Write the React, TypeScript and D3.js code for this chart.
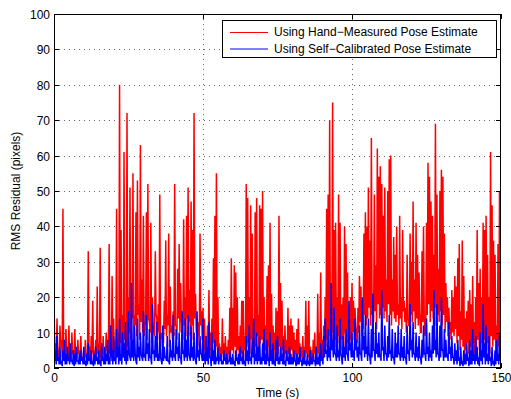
import React from "react";
import * as d3 from "d3";

// ---- data ----
// Peaks are sampled every 0.5 s; the "low" arrays hold the dips seen between them.
const sampleStep = 0.5;
const xTicks = [0, 50, 100, 150];
const yTicks = [0, 10, 20, 30, 40, 50, 60, 70, 80, 90, 100];
const seriesNames = ["Using Hand\u2212Measured Pose Estimate", "Using Self\u2212Calibrated Pose Estimate"];

const handMeasured = [
  22, 7, 14, 5, 12, 8, 45, 5, 11, 4,
  12, 6, 10, 4, 11, 3, 8, 5, 9, 3,
  5, 8, 4, 33, 6, 9, 19, 5, 8, 23,
  7, 34, 6, 9, 5, 10, 7, 35, 12, 26,
  14, 8, 45, 10, 80, 39, 15, 61, 12, 72,
  20, 51, 22, 55, 15, 44, 53, 18, 63, 25,
  43, 12, 44, 52, 13, 41, 20, 10, 33, 14,
  18, 49, 10, 8, 19, 36, 15, 38, 23, 12,
  16, 52, 12, 28, 35, 24, 14, 42, 20, 43,
  51, 22, 47, 39, 72, 21, 14, 13, 38, 16,
  17, 14, 9, 12, 22, 10, 14, 31, 43, 55,
  20, 7, 6, 14, 7, 9, 6, 8, 17, 31,
  17, 29, 27, 20, 9, 12, 19, 19, 9, 52,
  48, 20, 46, 38, 9, 44, 48, 15, 46, 45,
  50, 20, 12, 26, 29, 41, 21, 12, 10, 17,
  16, 43, 24, 19, 9, 12, 8, 17, 12, 14,
  12, 10, 8, 11, 14, 7, 6, 9, 6, 19,
  12, 19, 6, 5, 8, 10, 6, 21, 10, 27,
  8, 12, 20, 45, 49, 70, 20, 75, 39, 41,
  20, 49, 41, 18, 20, 40, 35, 27, 15, 20,
  24, 19, 17, 9, 17, 26, 23, 19, 38, 44,
  40, 51, 36, 65, 17, 49, 29, 62, 54, 57,
  52, 43, 51, 25, 50, 59, 60, 25, 37, 32,
  40, 18, 43, 20, 39, 19, 17, 32, 12, 38,
  30, 47, 25, 41, 32, 27, 10, 33, 40, 9,
  41, 58, 54, 47, 43, 32, 69, 49, 28, 50,
  56, 54, 38, 24, 20, 17, 13, 22, 20, 26,
  23, 31, 35, 16, 36, 26, 14, 16, 19, 22,
  18, 26, 13, 20, 39, 24, 28, 20, 41, 39,
  43, 32, 20, 61, 46, 36, 32, 12, 35, 50,
];

const handMeasuredLow = [
  4, 3, 5, 2, 6, 3, 4, 2, 5, 3,
  3, 2, 4, 3, 2, 3, 4, 2, 3, 2,
  2, 3, 4, 2, 3, 4, 2, 3, 2, 4,
  3, 2, 4, 3, 2, 5, 3, 4, 2, 5,
  4, 3, 6, 2, 7, 4, 3, 8, 5, 6,
  10, 8, 14, 7, 12, 9, 15, 8, 13, 10,
  9, 13, 8, 14, 10, 7, 12, 9, 15, 8,
  10, 6, 9, 7, 11, 9, 12, 6, 10, 8,
  9, 12, 8, 14, 10, 13, 8, 12, 9, 14,
  13, 9, 12, 8, 14, 10, 6, 9, 12, 8,
  5, 3, 4, 6, 3, 5, 4, 7, 5, 6,
  3, 2, 3, 4, 2, 3, 2, 4, 3, 5,
  4, 6, 3, 5, 2, 4, 3, 5, 3, 6,
  7, 4, 8, 5, 3, 6, 9, 4, 7, 8,
  6, 4, 5, 3, 6, 4, 3, 5, 2, 4,
  4, 6, 3, 5, 3, 4, 2, 4, 3, 5,
  3, 4, 2, 3, 4, 2, 3, 2, 3, 4,
  3, 2, 3, 2, 4, 2, 3, 4, 2, 3,
  3, 4, 6, 8, 5, 9, 7, 10, 6, 8,
  7, 9, 5, 8, 6, 10, 7, 5, 8, 6,
  10, 8, 12, 7, 10, 13, 9, 11, 15, 12,
  14, 17, 12, 15, 13, 16, 11, 18, 14, 15,
  17, 14, 16, 13, 18, 15, 12, 16, 14, 13,
  15, 12, 14, 11, 16, 13, 10, 14, 12, 15,
  13, 16, 11, 14, 12, 15, 10, 13, 14, 11,
  15, 18, 13, 16, 14, 17, 12, 15, 13, 16,
  12, 15, 10, 13, 9, 11, 8, 10, 9, 11,
  7, 9, 5, 8, 6, 4, 5, 7, 4, 6,
  5, 7, 4, 6, 8, 5, 7, 4, 8, 6,
  7, 5, 4, 9, 6, 8, 5, 3, 6, 8,
];

const selfCalibrated = [
  13, 5, 9, 3, 6, 2, 5, 8, 4, 6,
  3, 7, 2, 5, 4, 6, 2, 4, 5, 3,
  6, 2, 4, 7, 3, 5, 2, 4, 6, 3,
  5, 2, 7, 3, 6, 4, 8, 3, 12, 5,
  9, 3, 11, 6, 14, 4, 10, 7, 13, 5,
  16, 3, 24, 8, 12, 2, 14, 6, 10, 3,
  16, 4, 15, 7, 11, 3, 18, 5, 9, 13,
  4, 10, 2, 12, 6, 3, 9, 2, 8, 5,
  15, 4, 11, 6, 10, 3, 16, 5, 14, 8,
  15, 3, 12, 6, 10, 2, 16, 5, 9, 4,
  14, 4, 9, 6, 13, 3, 10, 5, 8, 3,
  6, 3, 4, 2, 5, 3, 4, 2, 5, 3,
  4, 2, 5, 3, 4, 6, 3, 5, 2, 9,
  5, 12, 3, 8, 14, 4, 10, 6, 9, 3,
  7, 11, 4, 8, 3, 10, 5, 7, 2, 8,
  9, 3, 6, 4, 8, 2, 5, 3, 6, 4,
  3, 5, 2, 4, 3, 6, 2, 3, 5, 2,
  4, 2, 5, 3, 4, 2, 6, 3, 4, 7,
  3, 9, 14, 5, 11, 6, 24, 8, 17, 4,
  12, 5, 14, 3, 9, 6, 11, 4, 19, 7,
  10, 5, 14, 8, 6, 12, 4, 20, 9, 15,
  6, 14, 3, 11, 21, 5, 13, 7, 10, 4,
  22, 6, 12, 4, 9, 15, 5, 11, 3, 10,
  7, 12, 4, 11, 6, 9, 3, 12, 5, 18,
  8, 13, 4, 10, 6, 9, 3, 8, 12, 4,
  14, 6, 10, 5, 12, 22, 8, 18, 4, 12,
  20, 5, 11, 8, 4, 13, 6, 9, 3, 7,
  5, 8, 3, 6, 2, 5, 4, 7, 3, 8,
  5, 11, 4, 9, 6, 3, 10, 5, 18, 7,
  12, 4, 9, 3, 6, 2, 5, 8, 4, 10,
];

const selfCalibratedLow = [
  2, 1, 2, 1, 1, 0.5, 2, 1, 1, 2,
  1, 2, 1, 0.5, 1, 2, 1, 1, 2, 1,
  1, 0.5, 1, 2, 1, 1, 0.5, 1, 2, 1,
  1, 0.5, 2, 1, 1, 2, 1, 1, 3, 1,
  2, 1, 3, 1, 2, 1, 3, 2, 1, 2,
  4, 2, 3, 2, 4, 1, 3, 2, 4, 2,
  3, 2, 4, 2, 3, 1, 4, 2, 3, 2,
  2, 3, 1, 2, 3, 2, 2, 1, 3, 2,
  3, 2, 4, 2, 3, 1, 4, 2, 3, 2,
  4, 2, 3, 2, 3, 1, 3, 2, 4, 2,
  2, 1, 2, 1, 3, 0.5, 2, 1, 1, 2,
  1, 2, 1, 1, 2, 1, 1, 2, 1, 1,
  1, 0.5, 2, 1, 1, 2, 1, 1, 0.5, 2,
  1, 2, 1, 3, 1, 2, 1, 2, 1, 1,
  2, 1, 1, 2, 0.5, 2, 1, 1, 0.5, 2,
  1, 1, 2, 1, 1, 0.5, 2, 1, 1, 1,
  1, 2, 0.5, 1, 1, 2, 0.5, 1, 1, 0.5,
  1, 0.5, 1, 1, 2, 0.5, 1, 1, 0.5, 2,
  1, 3, 4, 2, 3, 2, 5, 3, 4, 2,
  3, 2, 4, 1, 3, 2, 4, 2, 5, 3,
  3, 2, 5, 3, 2, 4, 2, 5, 3, 4,
  2, 4, 1, 3, 5, 2, 4, 3, 3, 2,
  5, 2, 4, 2, 3, 4, 2, 3, 1, 3,
  3, 4, 2, 3, 2, 3, 1, 4, 2, 5,
  3, 4, 2, 3, 2, 3, 1, 3, 4, 2,
  4, 2, 3, 2, 4, 5, 3, 4, 2, 3,
  5, 2, 3, 3, 2, 4, 2, 3, 1, 2,
  1, 2, 0.5, 1, 0.5, 1, 1, 2, 0.5, 1,
  1, 2, 1, 2, 1, 0.5, 2, 1, 3, 1,
  2, 1, 2, 0.5, 1, 0.5, 1, 2, 1, 2,
];

const seriesColors = ["#ff0000", "#0000ff"];

type Pt = { t: number; v: number };
function weave(peaks: number[], lows: number[]): Pt[] {
  const out: Pt[] = [];
  peaks.forEach((p, i) => {
    out.push({ t: i * sampleStep, v: p });
    if (i < lows.length) out.push({ t: i * sampleStep + sampleStep / 2, v: lows[i] });
  });
  return out;
}

export default function App() {
  const W = 511, H = 399;
  const L = 54, R = 501, T = 14, B = 368;
  const x = d3.scaleLinear().domain([0, 150]).range([L, R]);
  const y = d3.scaleLinear().domain([0, 100]).range([B, T]);
  const line = d3.line<Pt>().x((d) => x(d.t)).y((d) => y(d.v));
  const font = "'Liberation Sans', Arial, Helvetica, sans-serif";
  const tickLen = 5;
  const red = weave(handMeasured, handMeasuredLow);
  const blue = weave(selfCalibrated, selfCalibratedLow);

  return (
    <div style={{ position: "absolute", left: 0, top: 0 }}>
      <svg width={W} height={H} style={{ display: "block", background: "#fff" }} fontFamily={font}>
        <defs>
          <clipPath id="plotclip">
            <rect x={L} y={T} width={R - L} height={B - T} />
          </clipPath>
        </defs>
        <rect x={0} y={0} width={W} height={H} fill="#fff" />
        {/* grid */}
        {yTicks.slice(1, -1).map((t) => (
          <line key={"gy" + t} x1={L} x2={R} y1={Math.round(y(t)) + 0.5} y2={Math.round(y(t)) + 0.5}
            stroke="#666" strokeWidth={1} strokeDasharray="1,4" />
        ))}
        {xTicks.slice(1, -1).map((t) => (
          <line key={"gx" + t} y1={T} y2={B} x1={Math.round(x(t)) + 0.5} x2={Math.round(x(t)) + 0.5}
            stroke="#666" strokeWidth={1} strokeDasharray="1,4" />
        ))}
        {/* data */}
        <g clipPath="url(#plotclip)">
          <path d={line(red) || ""} fill="none" stroke={seriesColors[0]} strokeWidth={1.5} strokeLinejoin="miter" strokeMiterlimit={2} />
          <path d={line(blue) || ""} fill="none" stroke={seriesColors[1]} strokeWidth={1.5} strokeLinejoin="miter" strokeMiterlimit={2} />
        </g>
        {/* frame */}
        <rect x={L + 0.5} y={T + 0.5} width={R - L - 1} height={B - T - 1} fill="none" stroke="#000" strokeWidth={1} />
        {/* ticks */}
        {yTicks.map((t) => {
          const yy = Math.round(y(t)) + 0.5;
          return (
            <g key={"ty" + t}>
              <line x1={L} x2={L + tickLen} y1={yy} y2={yy} stroke="#000" />
              <line x1={R - tickLen} x2={R} y1={yy} y2={yy} stroke="#000" />
              <text x={50} y={yy + 4.5} fontSize={12} textAnchor="end" fill="#000">{t}</text>
            </g>
          );
        })}
        {xTicks.map((t) => {
          const xx = Math.round(x(t)) + 0.5;
          return (
            <g key={"tx" + t}>
              <line x1={xx} x2={xx} y1={B} y2={B - tickLen} stroke="#000" />
              <line x1={xx} x2={xx} y1={T} y2={T + tickLen} stroke="#000" />
              <text x={xx} y={382} fontSize={12} textAnchor="middle" fill="#000">{t}</text>
            </g>
          );
        })}
        {/* axis labels */}
        <text x={(L + R) / 2} y={397} fontSize={12} textAnchor="middle" fill="#000">Time (s)</text>
        <text transform={`translate(20, ${(T + B) / 2}) rotate(-90)`} fontSize={12} textAnchor="middle" fill="#000">
          RMS Residual (pixels)
        </text>
        {/* legend */}
        <rect x={222.5} y={20.5} width={274} height={37} fill="#fff" stroke="#000" strokeWidth={1} />
        {seriesNames.map((name, i) => (
          <g key={name}>
            <line x1={230} x2={268} y1={i === 0 ? 32.5 : 49} y2={i === 0 ? 32.5 : 49} stroke={seriesColors[i]} strokeWidth={1} />
            <text x={274} y={i === 0 ? 36 : 53} fontSize={12} fill="#000">{name}</text>
          </g>
        ))}
      </svg>
    </div>
  );
}
